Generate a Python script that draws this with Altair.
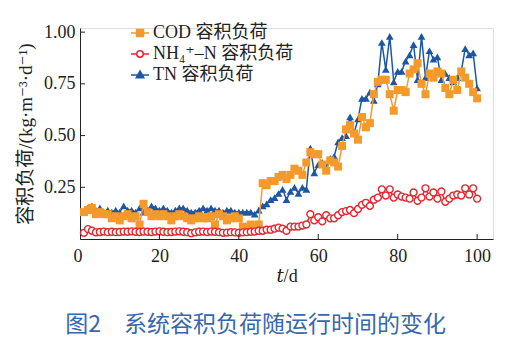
import altair as alt
import pandas as pd

days = list(range(1, 101))

cod = [0.13, 0.14, 0.15, 0.12, 0.13, 0.12, 0.12, 0.10, 0.11, 0.09,
       0.11, 0.12, 0.10, 0.11, 0.07, 0.17, 0.13, 0.11, 0.12, 0.11,
       0.12, 0.11, 0.09, 0.11, 0.12, 0.11, 0.10, 0.09, 0.10, 0.11,
       0.10, 0.10, 0.11, 0.07, 0.12, 0.11, 0.09, 0.10, 0.11, 0.10,
       0.06, 0.05, 0.07, 0.05, 0.07, 0.27, 0.26, 0.28, 0.28, 0.30,
       0.31, 0.29, 0.31, 0.34, 0.33, 0.31, 0.37, 0.42, 0.41, 0.41,
       0.36, 0.33, 0.38, 0.37, 0.35, 0.45, 0.53, 0.55, 0.51, 0.48,
       0.59, 0.54, 0.56, 0.70, 0.76, 0.77, 0.77, 0.70, 0.62, 0.72,
       0.72, 0.71, 0.80, 0.82, 0.85, 0.75, 0.70, 0.80, 0.78, 0.81,
       0.80, 0.73, 0.70, 0.77, 0.72, 0.81, 0.78, 0.75, 0.71, 0.68]

nh4 = [0.030, 0.048, 0.040, 0.032, 0.034, 0.036, 0.033, 0.035, 0.033, 0.034,
       0.036, 0.035, 0.037, 0.035, 0.034, 0.036, 0.035, 0.034, 0.036, 0.037,
       0.035, 0.033, 0.034, 0.036, 0.037, 0.035, 0.033, 0.028, 0.032, 0.035,
       0.036, 0.034, 0.036, 0.035, 0.033, 0.030, 0.031, 0.033, 0.032, 0.030,
       0.032, 0.033, 0.035, 0.036, 0.040, 0.040, 0.045, 0.045, 0.050, 0.055,
       0.050, 0.040, 0.060, 0.060, 0.060, 0.065, 0.070, 0.120, 0.090, 0.105,
       0.085, 0.115, 0.100, 0.100, 0.115, 0.130, 0.135, 0.140, 0.125, 0.145,
       0.165, 0.175, 0.160, 0.190, 0.200, 0.240, 0.210, 0.240, 0.200, 0.215,
       0.205, 0.200, 0.195, 0.225, 0.185, 0.200, 0.245, 0.205, 0.225, 0.195,
       0.230, 0.180, 0.195, 0.210, 0.215, 0.210, 0.245, 0.215, 0.245, 0.195]

tn = [0.13, 0.15, 0.16, 0.14, 0.15, 0.13, 0.14, 0.13, 0.14, 0.13,
      0.16, 0.14, 0.14, 0.13, 0.15, 0.13, 0.14, 0.16, 0.15, 0.14,
      0.15, 0.14, 0.13, 0.14, 0.15, 0.15, 0.14, 0.13, 0.13, 0.14,
      0.15, 0.14, 0.15, 0.14, 0.14, 0.13, 0.14, 0.14, 0.13, 0.13,
      0.13, 0.13, 0.13, 0.12, 0.14, 0.16, 0.17, 0.19, 0.20, 0.22,
      0.24, 0.19, 0.23, 0.25, 0.22, 0.25, 0.24, 0.44, 0.32, 0.36,
      0.37, 0.35, 0.39, 0.40, 0.47, 0.49, 0.50, 0.59, 0.51, 0.58,
      0.68, 0.68, 0.71, 0.67, 0.75, 0.95, 0.82, 0.98, 0.76, 0.81,
      0.81, 0.86, 0.89, 0.94, 0.77, 0.98, 0.78, 0.91, 0.87, 0.88,
      0.77, 0.80, 0.78, 0.76, 0.78, 0.81, 0.92, 0.89, 0.90, 0.73]

series_keys = ["COD", "NH4", "TN"]
series_labels = ["COD 容积负荷", "NH₄⁺–N 容积负荷", "TN 容积负荷"]
series_colors = ["#F39A2B", "#E3262F", "#1D56A5"]

x_ticks = [20, 40, 60, 80, 100]
y_ticks = [0.25, 0.50, 0.75, 1.00]

rows = []
for k, vals in zip(series_keys, [cod, nh4, tn]):
    for d, v in zip(days, vals):
        rows.append({"t": d, "series": k, "value": v})
df = pd.DataFrame(rows)

serif = "Liberation Serif, DejaVu Serif, Noto Sans CJK SC"

xenc = alt.X("t:Q", scale=alt.Scale(domain=[0, 104], nice=False, zero=False),
             axis=alt.Axis(values=[0, 20, 40, 60, 80, 100], ticks=False, grid=False,
                           domainColor="#222", domainWidth=1,
                           labelFont=serif, labelFontSize=18, labelColor="#222",
                           labelPadding=8,
                           labelOffset={"condition": {"test": "datum.value === 0", "value": -7}, "value": 0},
                           title="𝑡/d", titleFont=serif, titleFontSize=18,
                           titleFontWeight="normal", titleColor="#222", titlePadding=2))
yenc = alt.Y("value:Q", scale=alt.Scale(domain=[0, 1.02], nice=False),
             axis=alt.Axis(values=y_ticks, format=".2f", ticks=False, grid=False,
                           domainColor="#222", domainWidth=1,
                           labelFont=serif, labelFontSize=18, labelColor="#222",
                           labelPadding=5,
                           title="容积负荷/(kg·m⁻³·d⁻¹)", titleFont=serif, titleFontSize=19,
                           titleFontWeight="normal", titleColor="#222", titlePadding=8))

shape_expr = (
    "datum.value === 'COD' ? 'M-1,0L1,0M-0.38,-0.38L0.38,-0.38L0.38,0.38L-0.38,0.38Z' : "
    "datum.value === 'TN' ? 'M-1,0L1,0M0,-0.45L0.42,0.3L-0.42,0.3Z' : "
    "'M-1,0L-0.36,0M0.36,0L1,0M0.36,0A0.36,0.36 0 1,1 -0.36,0A0.36,0.36 0 1,1 0.36,0Z'"
)
fill_expr = "datum.value === 'COD' ? '%s' : datum.value === 'TN' ? '%s' : 'white'" % (
    series_colors[0], series_colors[2])
label_expr = "datum.value === 'COD' ? '%s' : datum.value === 'TN' ? '%s' : '%s'" % (
    series_labels[0], series_labels[2], series_labels[1])

color = alt.Color("series:N",
                  scale=alt.Scale(domain=series_keys, range=series_colors),
                  legend=alt.Legend(orient="none", legendX=50, legendY=-5, title=None,
                                    symbolSize=324, symbolStrokeWidth=1.5,
                                    symbolType={"expr": shape_expr},
                                    symbolFillColor={"expr": fill_expr},
                                    symbolOpacity=1,
                                    labelFont=serif, labelFontSize=18, labelColor="#222",
                                    labelOffset=3, rowPadding=2, labelLimit=0,
                                    labelExpr=label_expr))

base = alt.Chart(df).encode(x=xenc, y=yenc)

def line_layer(key):
    return base.transform_filter(alt.datum.series == key).mark_line(strokeWidth=1.5).encode(color=color)

tn_pts = base.transform_filter(alt.datum.series == "TN").mark_point(
    shape="triangle-up", filled=True, size=60, opacity=1, color=series_colors[2])
cod_pts = base.transform_filter(alt.datum.series == "COD").mark_point(
    shape="square", filled=True, size=64, opacity=1, color=series_colors[0])
nh4_pts = base.transform_filter(alt.datum.series == "NH4").mark_point(
    shape="circle", filled=True, fill="white", stroke=series_colors[1], strokeWidth=1.4,
    size=48, opacity=1)

xt = alt.Chart(pd.DataFrame({"t": x_ticks})).mark_rule(color="#222", strokeWidth=1).encode(
    x="t:Q", y=alt.value(211), y2=alt.value(206))
yt = alt.Chart(pd.DataFrame({"value": y_ticks})).mark_rule(color="#222", strokeWidth=1).encode(
    y="value:Q", x=alt.value(0), x2=alt.value(5))

chart = alt.layer(
    line_layer("TN"), tn_pts,
    line_layer("COD"), cod_pts,
    line_layer("NH4"), nh4_pts,
    xt, yt,
).properties(
    width=413, height=211,
    autosize=alt.AutoSizeParams(type="none"),
    padding={"left": 80, "top": 28, "right": 25, "bottom": 109},
    title=alt.TitleParams(text="图2　系统容积负荷随运行时间的变化", orient="bottom",
                          anchor="middle", font="Noto Sans CJK SC", fontSize=23,
                          fontWeight="normal", color="#3767AE", offset=29, dx=-31),
).configure_view(stroke=None).configure(background="white")

chart.save("out.html", embed_options={"renderer": "svg", "actions": False})
